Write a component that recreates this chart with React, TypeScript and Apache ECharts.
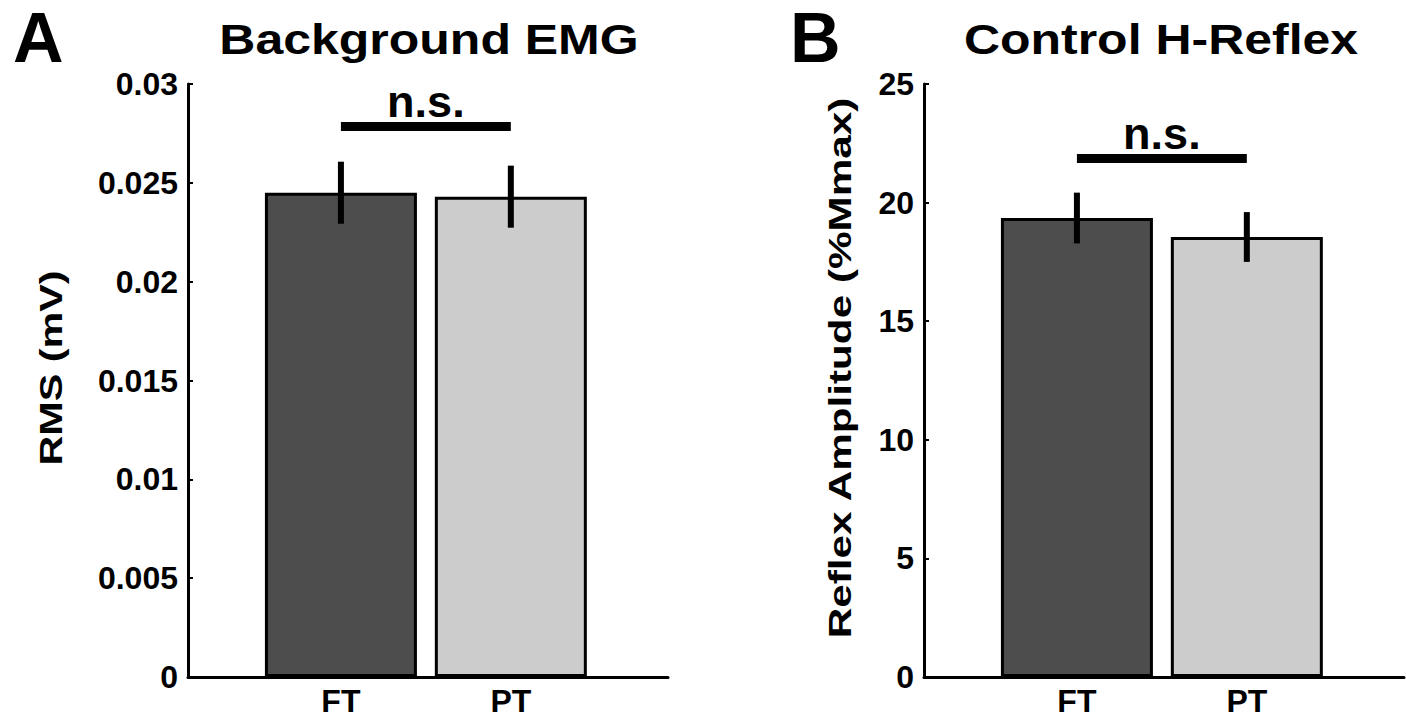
import React, { useEffect, useRef } from "react";
import * as echarts from "echarts";

// ---- data ----
const categories = ["FT", "PT"];
const barColors = ["#4d4d4d", "#cccccc"];

const emgMeans = [0.0245, 0.0243];
const emgErrors = [0.00157, 0.00157];
const emgSig = [1, 2, 0.02785]; // from x, to x, y level

const hMeans = [19.35, 18.55];
const hErrors = [1.07, 1.05];
const hSig = [1, 2, 21.86];

const sigLabel = "n.s.";
const panelLetters = ["A", "B"];
const panelTitles = ["Background EMG", "Control H-Reflex"];
const yNames = ["RMS (mV)", "Reflex Amplitude (%Mmax)"];

const FONT = '"Liberation Sans", Arial, Helvetica, sans-serif';

function buildBar(gi: number, means: number[]) {
  return {
    type: "bar",
    xAxisIndex: gi,
    yAxisIndex: gi,
    barWidth: 152,
    z: 2,
    itemStyle: { borderColor: "#000", borderWidth: 3 },
    data: categories.map((c, i) => ({
      value: [i + 1, means[i]],
      itemStyle: { color: barColors[i] },
    })),
  };
}

function buildErr(gi: number, means: number[], errs: number[]) {
  return {
    type: "custom",
    xAxisIndex: gi,
    yAxisIndex: gi,
    z: 5,
    clip: false,
    encode: { x: 0, y: [1, 2] },
    data: categories.map((c, i) => [i + 1, means[i] - errs[i], means[i] + errs[i]]),
    renderItem: (params: any, api: any) => {
      const top = api.coord([api.value(0), api.value(2)]);
      const bot = api.coord([api.value(0), api.value(1)]);
      return {
        type: "line",
        shape: { x1: top[0], y1: top[1], x2: bot[0], y2: bot[1] },
        style: { stroke: "#000", lineWidth: 6 },
      };
    },
  };
}

function buildSig(gi: number, sig: number[]) {
  return {
    type: "custom",
    xAxisIndex: gi,
    yAxisIndex: gi,
    z: 6,
    clip: false,
    encode: { x: [0, 1], y: 2 },
    data: [sig],
    renderItem: (params: any, api: any) => {
      const a = api.coord([api.value(0), api.value(2)]);
      const b = api.coord([api.value(1), api.value(2)]);
      return {
        type: "group",
        children: [
          {
            type: "line",
            shape: { x1: a[0], y1: a[1], x2: b[0], y2: b[1] },
            style: { stroke: "#000", lineWidth: 9 },
          },
          {
            type: "text",
            style: {
              text: sigLabel,
              x: (a[0] + b[0]) / 2,
              y: a[1] - 25,
              align: "center",
              textAlign: "center",
              verticalAlign: "middle",
              textVerticalAlign: "middle",
              font: `bold 45px ${FONT}`,
              fill: "#000",
            },
          },
        ],
      };
    },
  };
}

function yAxis(gi: number, max: number, interval: number) {
  return {
    gridIndex: gi,
    type: "value",
    min: 0,
    max,
    interval,
    axisLine: { show: true, onZero: false, lineStyle: { color: "#000", width: 3 } },
    axisTick: { show: true, inside: true, length: 5, lineStyle: { color: "#000", width: 2 } },
    splitLine: { show: false },
    axisLabel: {
      color: "#000",
      fontSize: 32,
      fontWeight: "bold",
      fontFamily: FONT,
      margin: 10,
      formatter: (v: number) => String(parseFloat(v.toFixed(4))),
    },
  };
}

function xAxis(gi: number) {
  return {
    gridIndex: gi,
    type: "value",
    min: 0.1,
    max: 2.925,
    axisLine: { show: true, onZero: false, lineStyle: { color: "#000", width: 3 } },
    axisTick: { show: false },
    splitLine: { show: false },
    axisLabel: {
      customValues: categories.map((c, i) => i + 1),
      formatter: (v: number) => categories[Math.round(v) - 1] ?? "",
      color: "#000",
      fontSize: 32,
      fontWeight: "bold",
      fontFamily: FONT,
      margin: 8,
    },
  };
}

function textEl(text: string, x: number, y: number, size: number, scaleX: number, rotation = 0, align = "center") {
  return {
    type: "text",
    x,
    y,
    rotation,
    scaleX,
    style: {
      text,
      font: `bold ${size}px ${FONT}`,
      fill: "#000",
      align,
      textAlign: align,
      verticalAlign: "middle",
      textVerticalAlign: "middle",
    },
  };
}

export default function App() {
  const ref = useRef<HTMLDivElement>(null);
  useEffect(() => {
    if (!ref.current) return;
    const chart = echarts.init(ref.current, undefined, { renderer: "svg" });
    chart.setOption({
      animation: false,
      backgroundColor: "#fff",
      grid: [
        { left: 188, top: 84, width: 480, height: 593, containLabel: false },
        { left: 924, top: 84, width: 480, height: 593, containLabel: false },
      ],
      xAxis: [xAxis(0), xAxis(1)],
      yAxis: [yAxis(0, 0.03, 0.005), yAxis(1, 25, 5)],
      series: [
        buildBar(0, emgMeans),
        buildErr(0, emgMeans, emgErrors),
        buildSig(0, emgSig),
        buildBar(1, hMeans),
        buildErr(1, hMeans, hErrors),
        buildSig(1, hSig),
      ],
      graphic: [
        textEl(panelLetters[0], 13, 38, 70, 1, 0, "left"),
        textEl(panelLetters[1], 790, 38, 70, 1, 0, "left"),
        textEl(panelTitles[0], 429, 39, 42, 1.19),
        textEl(panelTitles[1], 1161, 39, 42, 1.19),
        textEl(yNames[0], 51, 368, 32, 1.29, Math.PI / 2),
        textEl(yNames[1], 840, 368, 32, 1.32, Math.PI / 2),
      ],
    });
    return () => chart.dispose();
  }, []);
  return (
    <div
      ref={ref}
      style={{ position: "absolute", left: 0, top: 0, width: 1406, height: 719 }}
    />
  );
}
